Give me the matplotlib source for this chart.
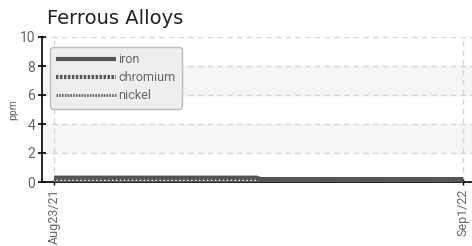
import matplotlib
matplotlib.use("Agg")
import matplotlib.pyplot as plt
import pandas as pd

# data (ppm)
iron_dates = pd.to_datetime(["2021-08-23", "2022-02-24", "2022-02-28", "2022-09-01"])
iron_vals = [0.3, 0.3, 0.2, 0.2]
chromium_dates = pd.to_datetime(["2021-08-23", "2022-09-01"])
chromium_vals = [0.05, 0.05]
nickel_dates = pd.to_datetime(["2021-08-23", "2022-09-01"])
nickel_vals = [0.0, 0.0]
yticks = [0, 2, 4, 6, 8, 10]
xtick_dates = pd.to_datetime(["2021-08-23", "2022-09-01"])
xtick_labels = ["Aug23/21", "Sep1/22"]

lab_font = "Roboto"
grey = "#666666"
fig = plt.figure(figsize=(4.72, 2.46), dpi=100)
ax = fig.add_axes([42 / 472, 1 - 182 / 246, 1 - 42 / 472, 145 / 246])

# shaded bands + dashed grid
for lo in [2, 6]:
    ax.axhspan(lo, lo + 2, color="#f6f6f6", zorder=0)
for y in yticks[1:]:
    ax.axhline(y, color="#d6d6d6", lw=1, ls=(0, (4, 3)), zorder=1)
for d in xtick_dates:
    ax.axvline(d, color="#d6d6d6", lw=1, ls=(0, (4, 3)), zorder=1)

ax.plot(iron_dates, iron_vals, color="#555555", lw=3, solid_capstyle="butt", label="iron", zorder=3)
ax.plot(chromium_dates, chromium_vals, color="#555555", lw=3, ls=(0, (0.6, 0.35)), label="chromium", zorder=4)
ax.plot(nickel_dates, nickel_vals, color="#666666", lw=2, ls=(0, (0.6, 0.4)), label="nickel", zorder=4)

ax.set_xlim(xtick_dates[0] - pd.Timedelta(days=11), xtick_dates[1] + pd.Timedelta(days=8))
ax.set_ylim(0, 10)
ax.set_yticks(yticks)
ax.set_xticks(xtick_dates)
ax.set_xticklabels(xtick_labels, rotation=90, family=lab_font)
ax.tick_params(axis="y", direction="inout", length=6, width=1.2, labelsize=10, labelcolor=grey, pad=2)
ax.tick_params(axis="x", direction="inout", length=5, width=1, labelsize=9, labelcolor=grey, pad=2)
for lab in ax.get_yticklabels():
    lab.set_family(lab_font)

for s in ["top", "right"]:
    ax.spines[s].set_visible(False)
ax.spines["left"].set_linewidth(1.2)
ax.spines["bottom"].set_linewidth(1.2)

ax.set_ylabel("ppm", fontsize=7.5, color=grey, labelpad=1, family=lab_font)
fig.text(47 / 472, 1 - 18 / 246, "Ferrous Alloys", fontsize=14, color="#222222", va="center")

leg = ax.legend(loc="upper left", bbox_to_anchor=(8 / 430, 135 / 145), borderaxespad=0,
                handlelength=4.8, handletextpad=0.15, labelspacing=0.4, borderpad=0.5,
                fancybox=True, facecolor="#eeeeee", edgecolor="#bbbbbb", framealpha=1,
                prop={"family": lab_font, "size": 9})
for t in leg.get_texts():
    t.set_color(grey)

fig.savefig("out.png", dpi=100)
